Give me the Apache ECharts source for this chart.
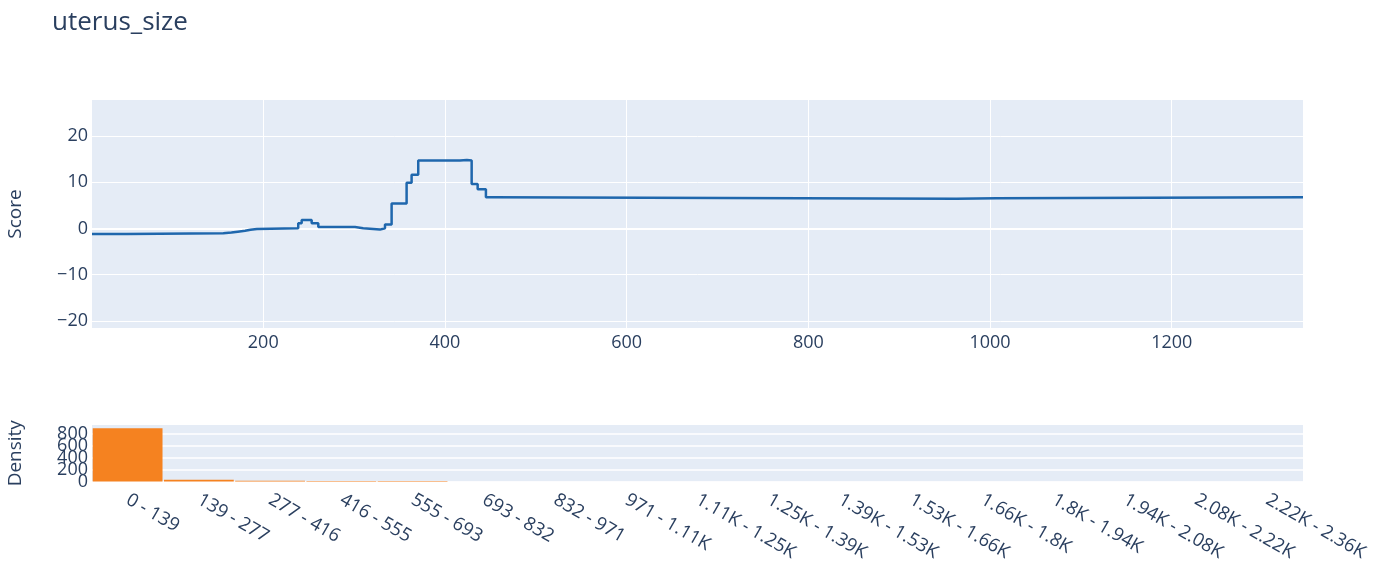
<!DOCTYPE html>
<html>
<head>
<meta charset="utf-8">
<script src="https://cdn.jsdelivr.net/npm/echarts@6/dist/echarts.min.js"></script>
<style>
  html, body { margin: 0; padding: 0; background: #fff; }
  #chart { width: 1387px; height: 561px; }
</style>
</head>
<body>
<div id="chart"></div>
<script>
// Shape function: bin edges (uterus_size) and the score of each bin
const scoreEdges = [11.5, 50, 156, 165, 172, 180, 186, 193, 238.5, 242.3, 253.3, 260.6, 301, 310, 328.4, 334, 341.3, 357.8, 363.3, 370.6, 416.5, 424.2, 429.4, 436, 445.1, 451.4, 963, 1007, 1344.5];
const scoreValues = [-1.2, -1.05, -0.9, -0.7, -0.5, -0.3, -0.1, 0.05, 1.1, 1.85, 1.1, 0.3, 0.05, -0.25, 0.05, 0.85, 5.4, 9.9, 11.6, 14.7, 14.8, 14.7, 9.6, 8.5, 6.75, 6.4, 6.55, 6.75];

// Axis ticks of the score panel
const scoreXTicks = [200, 400, 600, 800, 1000, 1200];
const scoreYTicks = [-20, -10, 0, 10, 20];

// Density histogram
const densityBins = ['0 - 139', '139 - 277', '277 - 416', '416 - 555', '555 - 693', '693 - 832', '832 - 971', '971 - 1.11K', '1.11K - 1.25K', '1.25K - 1.39K', '1.39K - 1.53K', '1.53K - 1.66K', '1.66K - 1.8K', '1.8K - 1.94K', '1.94K - 2.08K', '2.08K - 2.22K', '2.22K - 2.36K'];
const densityValues = [884, 28, 12, 10, 7, 2, 1.5, 1, 1, 1, 0, 0, 0, 0, 0, 0, 0];
const densityYTicks = [0, 200, 400, 600, 800];

const FONT = '"Open Sans", "DejaVu Sans", sans-serif';
const TEXT = '#2a3f5f';
const PANEL = '#E5ECF6';

// horizontal-then-vertical step path built from the bins
const stepData = [];
scoreValues.forEach((v, i) => {
  stepData.push([scoreEdges[i], v]);
  stepData.push([scoreEdges[i + 1], v]);
});

const scoreGridLines = scoreXTicks.map(v => ({ xAxis: v }))
  .concat(scoreYTicks.map(v => ({ yAxis: v, lineStyle: { width: v === 0 ? 2 : 1 } })));

// density grid lines carry their own tick labels (the ticks sit too close for axis labels)
const densityGridLines = densityYTicks.map(v => ({ yAxis: v }));

const chart = echarts.init(document.getElementById('chart'), null, { renderer: 'canvas' });
chart.setOption({
  animation: false,
  textStyle: { fontFamily: FONT, color: TEXT },
  title: {
    text: 'uterus_size',
    left: 47,
    top: 5,
    textStyle: { fontFamily: FONT, fontSize: 26, fontWeight: 'normal', color: TEXT }
  },
  grid: [
    { left: 92, right: 84, top: 100, height: 228, show: true, backgroundColor: PANEL, borderWidth: 0, containLabel: false, outerBoundsMode: 'none' },
    { left: 92, right: 84, top: 425, height: 56.5, show: true, backgroundColor: PANEL, borderWidth: 0, containLabel: false, outerBoundsMode: 'none' }
  ],
  xAxis: [
    {
      type: 'value', gridIndex: 0, min: scoreEdges[0], max: scoreEdges[scoreEdges.length - 1],
      axisLine: { show: false }, axisTick: { show: false }, splitLine: { show: false },
      axisLabel: { customValues: scoreXTicks, fontSize: 18, color: TEXT, fontFamily: FONT, margin: 6, formatter: v => String(v) }
    },
    {
      type: 'category', gridIndex: 1, data: densityBins,
      axisLine: { show: false }, axisTick: { show: false }, splitLine: { show: false },
      axisLabel: { interval: 0, rotate: -30, fontSize: 18.5, color: TEXT, fontFamily: FONT, margin: 17 }
    }
  ],
  yAxis: [
    {
      type: 'value', gridIndex: 0, min: -21.55, max: 27.8,
      name: 'Score', nameLocation: 'middle', nameGap: 67,
      nameTextStyle: { fontSize: 19, color: TEXT, fontFamily: FONT },
      axisLine: { show: false }, axisTick: { show: false }, splitLine: { show: false },
      axisLabel: {
        customValues: scoreYTicks, fontSize: 18, color: TEXT, fontFamily: FONT, margin: 4,
        formatter: v => (v < 0 ? '\u2212' + Math.abs(v) : String(v))
      }
    },
    {
      type: 'value', gridIndex: 1, min: 0, max: 940,
      name: 'Density', nameLocation: 'middle', nameGap: 67,
      nameTextStyle: { fontSize: 19, color: TEXT, fontFamily: FONT },
      axisLine: { show: false }, axisTick: { show: false },
      splitLine: { show: false }, axisLabel: { show: false }
    }
  ],
  series: [
    {
      // white grid lines of the score panel
      type: 'line', xAxisIndex: 0, yAxisIndex: 0, z: 1,
      data: [[scoreEdges[0], scoreValues[0]]],
      showSymbol: false, lineStyle: { opacity: 0 }, silent: true,
      markLine: {
        z: 1, silent: true, symbol: ['none', 'none'], animation: false,
        label: { show: false },
        lineStyle: { color: '#fff', width: 1, type: 'solid' },
        data: scoreGridLines
      }
    },
    {
      type: 'line', xAxisIndex: 0, yAxisIndex: 0, z: 5,
      data: stepData, showSymbol: false,
      lineStyle: { color: '#1f67ad', width: 2.5 }
    },
    {
      // white grid lines and tick labels of the density panel
      type: 'line', xAxisIndex: 1, yAxisIndex: 1, z: 1,
      data: [0], showSymbol: false, lineStyle: { opacity: 0 }, silent: true,
      markLine: {
        z: 1, silent: true, symbol: ['none', 'none'], animation: false,
        lineStyle: { color: '#fff', width: 1.5, type: 'solid' },
        label: {
          show: true, position: 'start', distance: 4, formatter: p => String(p.value),
          fontSize: 18, color: TEXT, fontFamily: FONT
        },
        data: densityGridLines
      }
    },
    {
      type: 'bar', xAxisIndex: 1, yAxisIndex: 1, z: 3,
      data: densityValues, barCategoryGap: '2%',
      itemStyle: { color: '#f58220' }
    }
  ]
});
</script>
</body>
</html>
